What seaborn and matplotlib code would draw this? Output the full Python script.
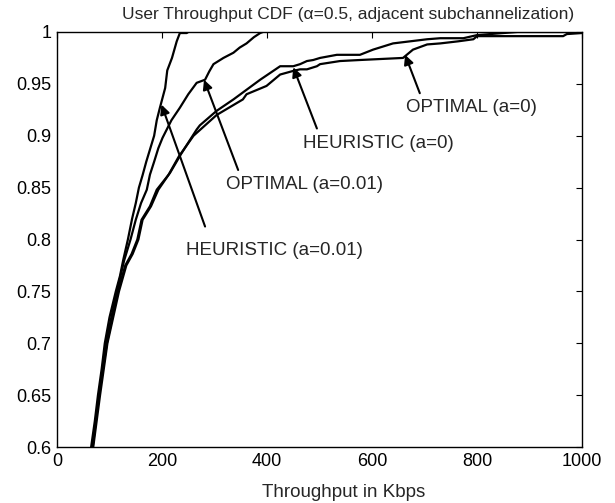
import matplotlib
matplotlib.use("Agg")
import matplotlib.pyplot as plt
import seaborn as sns
import pandas as pd

# --- data (Throughput in Kbps, CDF) ---
heur001_x = [65, 72, 78, 85, 91, 100, 112, 120, 126, 135, 143, 150, 156, 163, 170, 179, 185, 190, 196, 206, 210, 219, 228, 234, 247, 250]
heur001_y = [0.60, 0.625, 0.65, 0.675, 0.70, 0.725, 0.75, 0.765, 0.78, 0.80, 0.82, 0.835, 0.85, 0.862, 0.875, 0.89, 0.90, 0.915, 0.927, 0.946, 0.963, 0.975, 0.991, 0.999, 0.999, 1.0]

opt001_x = [67, 80, 93, 114, 128, 140, 150, 160, 171, 177, 185, 193, 201, 209, 218, 234, 250, 266, 282, 290, 298, 317, 336, 348, 361, 375, 387, 392]
opt001_y = [0.60, 0.65, 0.70, 0.75, 0.78, 0.80, 0.819, 0.835, 0.848, 0.8625, 0.875, 0.888, 0.898, 0.906, 0.915, 0.927, 0.94, 0.951, 0.954, 0.962, 0.969, 0.975, 0.98, 0.985, 0.989, 0.995, 0.999, 1.0]

heur0_x = [68, 80, 95, 116, 130, 142, 153, 161, 177, 190, 215, 237, 266, 272, 304, 336, 387, 425, 450, 463, 476, 488, 501, 533, 577, 602, 640, 705, 730, 774, 800, 850, 877, 1000]
heur0_y = [0.60, 0.65, 0.70, 0.75, 0.775, 0.786, 0.80, 0.819, 0.832, 0.848, 0.864, 0.883, 0.906, 0.91, 0.924, 0.935, 0.954, 0.967, 0.967, 0.969, 0.972, 0.973, 0.975, 0.978, 0.978, 0.983, 0.989, 0.993, 0.994, 0.994, 0.997, 0.999, 1.0, 1.0]

opt0_x = [69, 82, 96, 118, 132, 144, 155, 163, 179, 193, 212, 232, 260, 304, 354, 361, 399, 425, 450, 463, 476, 495, 501, 539, 577, 659, 678, 705, 730, 764, 793, 800, 964, 971, 1000]
opt0_y = [0.60, 0.65, 0.70, 0.75, 0.775, 0.786, 0.80, 0.819, 0.832, 0.848, 0.862, 0.88, 0.90, 0.92, 0.935, 0.94, 0.948, 0.959, 0.9625, 0.964, 0.964, 0.967, 0.969, 0.972, 0.973, 0.975, 0.983, 0.988, 0.989, 0.991, 0.993, 0.996, 0.996, 0.998, 0.999]

x_ticks = [0, 200, 400, 600, 800, 1000]
y_ticks = [0.6, 0.65, 0.7, 0.75, 0.8, 0.85, 0.9, 0.95, 1.0]
y_tick_labels = ["0.6", "0.65", "0.7", "0.75", "0.8", "0.85", "0.9", "0.95", "1"]

# annotation labels: text, text position, arrow tail, arrow tip
ann_labels = ["OPTIMAL (a=0)", "HEURISTIC (a=0)", "OPTIMAL (a=0.01)", "HEURISTIC (a=0.01)"]
ann_text_xy = [(789, 0.927), (613, 0.893), (472, 0.853), (414, 0.789)]
ann_tail_xy = [(691, 0.941), (495, 0.907), (345, 0.867), (282, 0.8125)]
ann_tip_xy = [(663, 0.978), (450, 0.966), (280, 0.954), (199, 0.93)]

sns.set_style("white")
plt.rcParams['font.family'] = ['Liberation Sans', 'DejaVu Sans']

fig = plt.figure(figsize=(6.15, 5.03), dpi=100)
ax = fig.add_axes([0.0927, 0.1113, 0.8537, 0.8251])

curves = [(heur001_x, heur001_y), (opt001_x, opt001_y), (heur0_x, heur0_y), (opt0_x, opt0_y)]
for xs, ys in curves:
    df = pd.DataFrame({"x": xs, "y": ys})
    sns.lineplot(data=df, x="x", y="y", ax=ax, color="black", linewidth=1.6,
                 estimator=None, sort=False)

ax.set_xlim(0, 1000)
ax.set_ylim(0.6, 1.0)
ax.set_xticks(x_ticks)
ax.set_xticklabels([str(t) for t in x_ticks])
ax.set_yticks(y_ticks)
ax.set_yticklabels(y_tick_labels)
ax.tick_params(direction="in", top=True, right=True, length=4, width=0.8,
               labelsize=13, colors="black", pad=4)
for s in ax.spines.values():
    s.set_color("black")
    s.set_linewidth(1.0)

ax.set_xlabel("Throughput in Kbps", fontsize=13.5)
ax.xaxis.set_label_coords(0.545, -0.088)
ax.set_ylabel("")
ax.set_title("User Throughput CDF (\u03b1=0.5, adjacent subchannelization)", fontsize=12.5,
             x=0.555, pad=9)

arrow = dict(arrowstyle="-|>", color="black", lw=1.5, mutation_scale=14, shrinkA=0, shrinkB=0)
for lab, txy, tail, tip in zip(ann_labels, ann_text_xy, ann_tail_xy, ann_tip_xy):
    ax.annotate("", xy=tip, xytext=tail, arrowprops=arrow)
    ax.text(txy[0], txy[1], lab, fontsize=13.5, ha="center", va="center")

fig.savefig("out.png", dpi=100)
